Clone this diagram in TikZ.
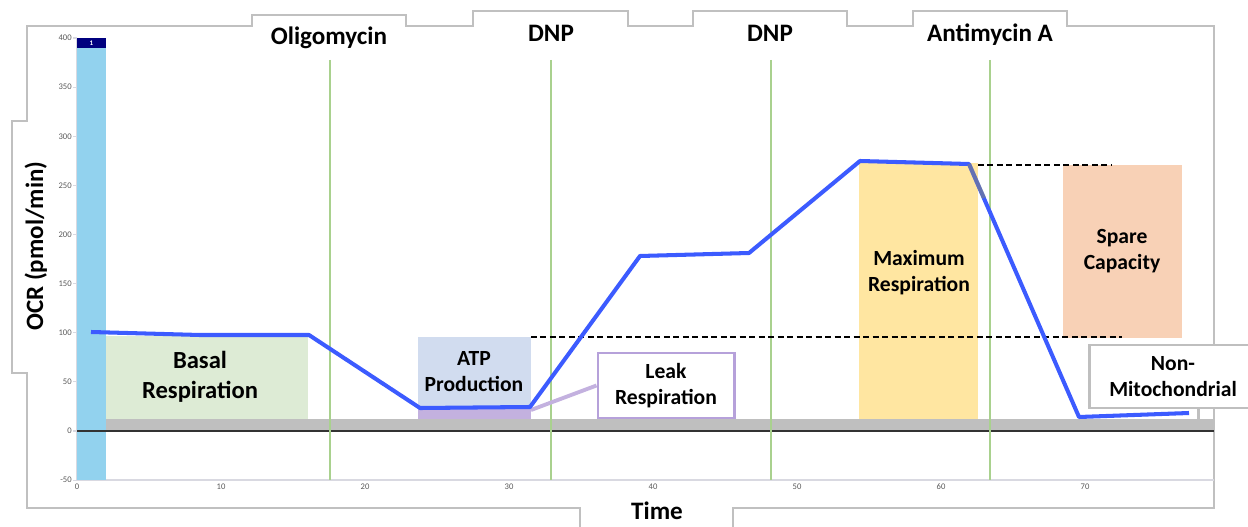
\documentclass[tikz,border=0pt]{standalone}
\usepackage{fontspec}
\setmainfont{Carlito}
\usepackage{xcolor}
\usepackage{tikz}

\definecolor{framegray}{HTML}{C0C0C0}
\definecolor{axisgray}{HTML}{D9D9E1}
\definecolor{tickgray}{HTML}{595959}
\definecolor{barblue}{HTML}{92D2EE}
\definecolor{barnavy}{HTML}{00007F}
\definecolor{bandgray}{HTML}{BFBFBF}
\definecolor{druggreen}{HTML}{A9D18E}
\definecolor{basalgreen}{HTML}{DDEBD5}
\definecolor{atpblue}{HTML}{D1DCEF}
\definecolor{leakpurple}{HTML}{C3B1DF}
\definecolor{leakborder}{HTML}{B6A1DA}
\definecolor{maxyellow}{HTML}{FFE6A1}
\definecolor{sparepeach}{HTML}{F8D1B6}
\definecolor{ocrblue}{HTML}{3C5BFF}

\begin{document}
\begin{tikzpicture}[x=0.02cm, y=-0.02cm,
		hdr/.style={font=\bfseries\fontsize{14.3}{16}\selectfont, inner sep=0pt},
		boxtxt/.style={font=\bfseries\fontsize{12.3}{14.8}\selectfont, align=center, inner sep=0pt},
		bigtxt/.style={font=\bfseries\fontsize{14}{17}\selectfont, align=center, inner sep=0pt},
		ticklbl/.style={font=\fontsize{4.9}{5}\selectfont, text=tickgray, inner sep=0pt},
		drug/.style={draw=druggreen, line width=0.9pt},
		capline/.style={draw=black, line width=0.8pt, dash pattern=on 3.4pt off 2pt},
		callout/.style={draw, fill=white, line width=1.7pt}]
	\useasboundingbox (0,0) rectangle (1248,527);
	\draw[framegray, line width=0.6pt] (580,527) -- (580,508) -- (27,508) -- (27,373) -- (12,373) -- (12,121) -- (27,121) -- (27,26)
		-- (252,26) -- (252,15) -- (406,15) -- (406,26) -- (473,26) -- (473,11) -- (628,11) -- (628,26)
		-- (693,26) -- (693,11) -- (847,11) -- (847,26) -- (913,26) -- (913,11) -- (1067,11) -- (1067,26)
		-- (1214,26) -- (1214,508) -- (733,508) -- (733,527);
	\draw[axisgray, line width=1.1pt] (77,38) -- (77,480) -- (1214,480);
	\foreach \v in {-50,0,50,...,400} {
		\draw[axisgray, line width=0.6pt] (73,{431-0.9825*\v}) -- (77,{431-0.9825*\v});
		\node[ticklbl, anchor=east] at (72,{431-0.9825*\v}) {\v};
	}
	\foreach \v in {0,10,...,70} {
		\node[ticklbl] at ({77+14.4*\v},487) {\v};
	}
	\fill[barblue] (77,38) rectangle (106,480);
	\fill[barnavy] (77,38) rectangle (106,48);
	\node[font=\bfseries\fontsize{4}{4}\selectfont, text=white, inner sep=0pt] (well) at (91.5,43) {1};
	\fill[bandgray] (106,419) rectangle (1214,431);
	\draw[black!80, line width=0.8pt] (77,431) -- (1214,431);
	\fill[basalgreen] (106,336) rectangle (308,419);
	\fill[atpblue] (418,337) rectangle (531,407);
	\fill[leakpurple] (418,407) rectangle (531,419);
	\fill[maxyellow] (859,163) rectangle (978,419);
	\fill[sparepeach] (1063,165) rectangle (1182,338);
	\foreach \x in {330,551,771,990} {
		\draw[drug] (\x,60) -- (\x,480);
	}
	\draw[capline] (531,337) -- (1122,337);
	\draw[capline] (978,165) -- (1112,165);
	\node[callout, draw=leakborder, minimum width=136*0.02cm, minimum height=65*0.02cm] (leakbox) at (666,385.5) {};
	\node[boxtxt] (leak) at (666,386) {Leak\\Respiration};
	\coordinate (leakend) at (531,410);
	\draw[leakpurple, line width=2.2pt] (leakbox.west) -- (leakend);
	\draw[ocrblue, line width=2.3pt, line join=round] (91,332) -- (200,335) -- (309,335) -- (420,408) -- (530,407) -- (640,256)
		-- (749,253) -- (860,161) -- (969,164) -- (1079,417) -- (1189,413);
	\draw[gray, opacity=0.6, line width=2.3pt] (969,164) -- (984,198);
	\node[callout, draw=bandgray, minimum width=200*0.02cm, minimum height=63*0.02cm] (nmbox) at (1189,376.5) {};
	\node[boxtxt] (nonmito) at (1173,377) {Non-\\Mitochondrial};
	\coordinate (nmend) at (1198,419);
	\draw[bandgray, line width=1.7pt] (nmend |- nmbox.south) -- (nmend);
	\node[hdr, anchor=base] (oligo) at (329,45) {Oligomycin};
	\node[hdr, anchor=base] (dnpa) at (551,42) {DNP};
	\node[hdr, anchor=base] (dnpb) at (770,42) {DNP};
	\node[hdr, anchor=base] (anti) at (990,42) {Antimycin A};
	\node[hdr, anchor=base] (time) at (657,519) {Time};
	\node[hdr, anchor=base, rotate=90, font=\bfseries\fontsize{14.2}{16}\selectfont] (ocr) at (43,246) {OCR (pmol/min)};
	\node[bigtxt] (basal) at (200,377) {Basal\\Respiration};
	\node[boxtxt] (atp) at (474,372) {ATP\\Production};
	\node[boxtxt] (maxresp) at (919,273) {Maximum\\Respiration};
	\node[boxtxt] (spare) at (1122,251) {Spare\\Capacity};
\end{tikzpicture}
\end{document}
